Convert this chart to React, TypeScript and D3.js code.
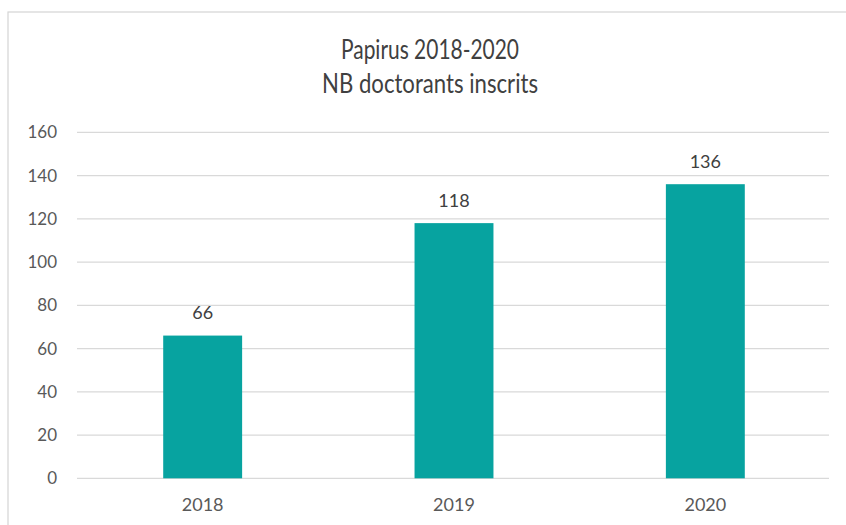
import React from "react";
import * as d3 from "d3";

const categories = ["2018", "2019", "2020"];
const values = [66, 118, 136];
const yTicks = [0, 20, 40, 60, 80, 100, 120, 140, 160];
const titleLines = ["Papirus 2018-2020", "NB doctorants inscrits"];

export default function App() {
  const W = 846, H = 525;
  const x = d3.scaleBand<string>().domain(categories).range([77, 831]).paddingInner(0.686).paddingOuter(0.343);
  const y = d3.scaleLinear().domain([0, 160]).range([478.3, 132.3]);
  const numFont = "Lato, 'Open Sans', sans-serif";
  const titleWidths = [178, 216];
  return (
    <svg width={W} height={H} style={{ position: "absolute", left: 0, top: 0, background: "#fff" }}>
      <rect x={8} y={12} width={W + 10} height={H} fill="#fff" stroke="#d4d4d4" strokeWidth={1.2} />
      {titleLines.map((t, i) => (
        <text key={t} x={430} y={59 + i * 34} textAnchor="middle" fontSize={27}
          textLength={titleWidths[i]} lengthAdjust="spacingAndGlyphs"
          fontFamily="Lato, sans-serif" fill="#404040">{t}</text>
      ))}
      {yTicks.map((v) => (
        <g key={v}>
          <line x1={77} x2={829} y1={y(v)} y2={y(v)} stroke="#d9d9d9" strokeWidth={1.3} />
          <text x={57} y={y(v)} dy="0.36em" textAnchor="end" fontSize={17} fontFamily={numFont} fill="#595959">{v}</text>
        </g>
      ))}
      {categories.map((c, i) => (
        <g key={c}>
          <rect x={x(c)} y={y(values[i])} width={x.bandwidth()} height={y(0) - y(values[i])} fill="#07a3a0" />
          <text x={x(c)! + x.bandwidth() / 2} y={y(values[i]) - 16.5} textAnchor="middle" fontSize={18} fontFamily={numFont} fill="#404040">{values[i]}</text>
          <text x={x(c)! + x.bandwidth() / 2} y={511} textAnchor="middle" fontSize={18} fontFamily={numFont} fill="#595959">{c}</text>
        </g>
      ))}
    </svg>
  );
}
